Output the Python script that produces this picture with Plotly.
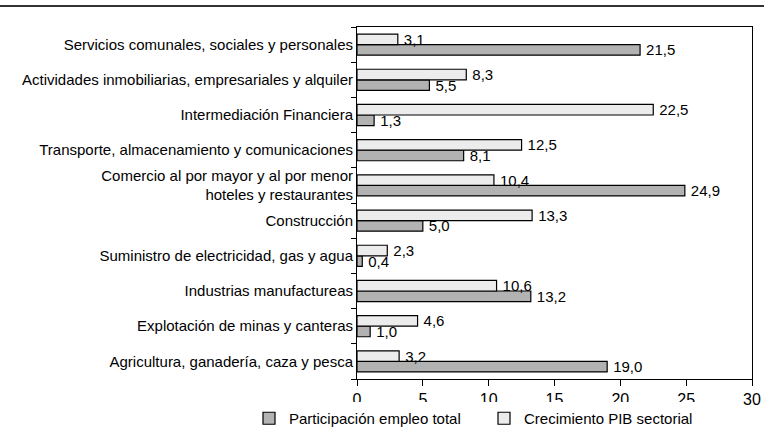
import plotly.graph_objects as go

# sectors listed bottom to top, as plotly draws categories on a y axis
sectors = [
    "Agricultura, ganadería, caza y pesca",
    "Explotación de minas y canteras",
    "Industrias manufactureas",
    "Suministro de electricidad, gas y agua",
    "Construcción",
    "Comercio al por mayor y al por menor<br>hoteles y restaurantes",
    "Transporte, almacenamiento y comunicaciones",
    "Intermediación Financiera",
    "Actividades inmobiliarias, empresariales y alquiler",
    "Servicios comunales, sociales y personales",
]
empleo = [19.0, 1.0, 13.2, 0.4, 5.0, 24.9, 8.1, 1.3, 5.5, 21.5]
pib = [3.2, 4.6, 10.6, 2.3, 13.3, 10.4, 12.5, 22.5, 8.3, 3.1]
x_ticks = [0, 5, 10, 15, 20, 25, 30]

FONT = "Liberation Sans, Arial, sans-serif"

W, H = 764, 446
ML, MR, MT, MB = 357, 12, 27, 67
pw, ph = W - ML - MR, H - MT - MB

fig = go.Figure()
fig.add_trace(go.Bar(
    y=sectors, x=empleo, orientation="h", name="Participación empleo total",
    marker=dict(color="#b2b2b2", line=dict(color="#000000", width=1.2)),
    texttemplate="\u2009%{x:.1f}", textposition="outside", cliponaxis=False,
    constraintext="none",
    textfont=dict(family=FONT, size=15, color="#000000"),
))
fig.add_trace(go.Bar(
    y=sectors, x=pib, orientation="h", name="Crecimiento PIB sectorial",
    marker=dict(color="#ececec", line=dict(color="#000000", width=1.2)),
    texttemplate="\u2009%{x:.1f}", textposition="outside", cliponaxis=False,
    constraintext="none",
    textfont=dict(family=FONT, size=15, color="#000000"),
))

# rule across the top of the page
fig.add_shape(type="line", xref="paper", yref="paper",
              x0=-ML / pw, x1=1 + MR / pw, y0=1 + 21 / ph, y1=1 + 21 / ph,
              line=dict(color="#333333", width=2), layer="above")

fig.update_layout(
    width=W, height=H,
    margin=dict(l=ML, r=MR, t=MT, b=MB, autoexpand=False),
    paper_bgcolor="white", plot_bgcolor="white",
    barmode="group", bargap=0.4, bargroupgap=0,
    separators=",.",
    font=dict(family=FONT, size=15, color="#000000"),
    showlegend=True,
    legend=dict(orientation="h", x=(249 - ML) / pw, y=-23 / ph, xanchor="left", yanchor="top",
                font=dict(family=FONT, size=15), traceorder="normal",
                itemwidth=30, entrywidth=190, entrywidthmode="pixels"),
)
fig.update_xaxes(
    range=[0, 30], tickvals=x_ticks, ticks="outside", ticklen=6, tickcolor="#000",
    showgrid=False, zeroline=False, showline=True, linecolor="#000", linewidth=1,
    mirror=True, tickfont=dict(family=FONT, size=16), automargin=False,
)
fig.update_yaxes(
    ticks="outside", ticklen=5, tickcolor="#000", tickson="boundaries",
    showgrid=False, showline=True, linecolor="#000", linewidth=1, mirror=True,
    tickfont=dict(family=FONT, size=15), categoryorder="array", categoryarray=sectors,
    automargin=False,
)

# drop the default 8px page margin so the figure sits at the window corner
fig.write_html("out.html", config={"displayModeBar": False},
               post_script="document.body.style.margin='0';")
